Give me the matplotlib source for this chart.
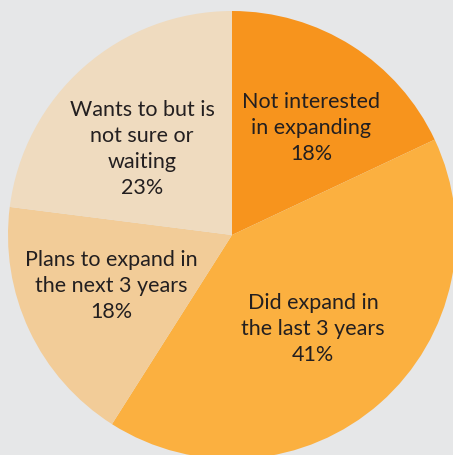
import matplotlib
matplotlib.use('Agg')
import matplotlib.pyplot as plt

labels = ['Not interested\nin expanding', 'Did expand in\nthe last 3 years',
          'Plans to expand in\nthe next 3 years', 'Wants to but is\nnot sure or\nwaiting']
shares = [18, 41, 18, 23]
colors = ['#f7941d', '#fbb040', '#f2cc98', '#efdbbf']

# label centres in pixels (from top-left)
label_pos = [(311, 128), (313, 329), (111, 286), (142, 149)]

W, H = 453, 456
fig = plt.figure(figsize=(W / 100, H / 100), dpi=100, facecolor='#e6e7e8')
ax = fig.add_axes([0, 0, 1, 1])
ax.set_facecolor('#e6e7e8')

ax.pie(shares, colors=colors, startangle=90, counterclock=False,
       center=(232, H - 236), radius=224, frame=True,
       wedgeprops=dict(linewidth=0))
ax.set_xlim(0, W)
ax.set_ylim(0, H)
ax.set_aspect('equal')
ax.axis('off')

for lab, s, (x, y) in zip(labels, shares, label_pos):
    ax.text(x, H - y, f'{lab}\n{s}%', ha='center', va='center',
            fontsize=15.5, family='Lato', color='#231f20', linespacing=1.38)

fig.savefig('out.png', dpi=100, facecolor=fig.get_facecolor())
